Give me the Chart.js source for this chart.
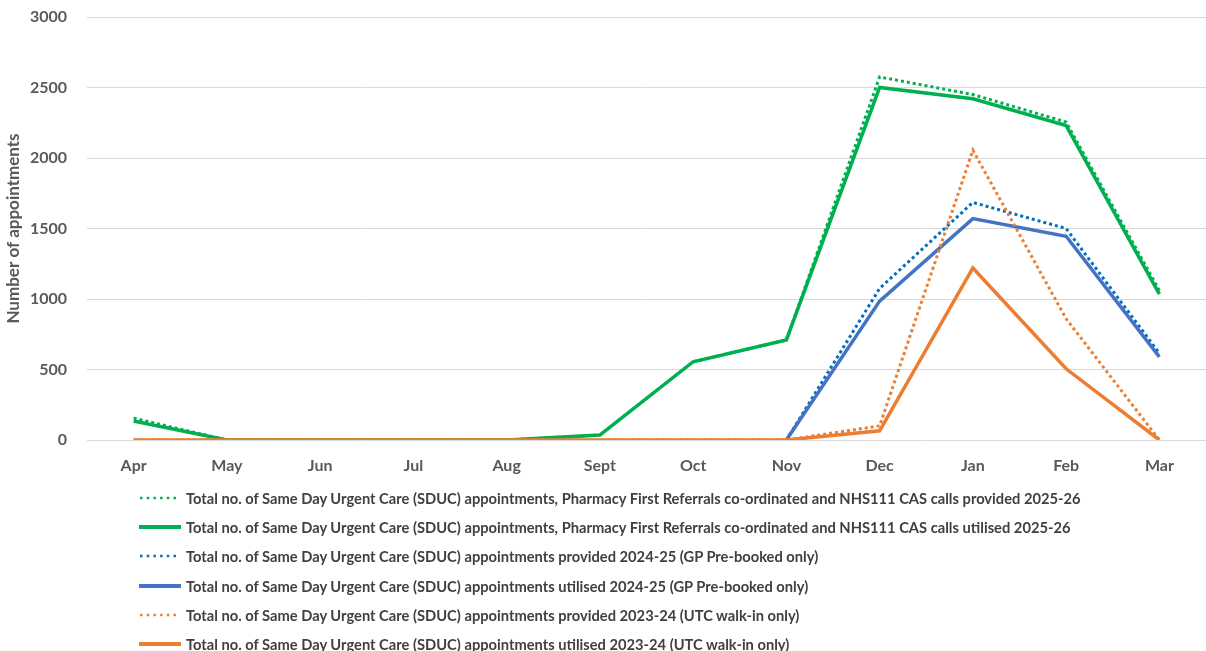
<!DOCTYPE html>
<html>
<head>
<meta charset="utf-8">
<script src="https://cdn.jsdelivr.net/npm/chart.js@4/dist/chart.umd.min.js"></script>
<style>
  html, body { margin: 0; padding: 0; background: #ffffff; }
  #wrap { position: relative; width: 1206px; height: 651px; }
  #legend { position: absolute; left: 139px; top: 483px; font-family: Lato, "Open Sans", sans-serif; font-weight: bold; font-size: 14.7px; color: #404040; }
  .row { display: flex; align-items: center; height: 29.3px; white-space: nowrap; }
  .row svg { flex: none; margin-right: 5px; }
</style>
</head>
<body>
<div id="wrap">
  <canvas id="c" width="1206" height="651"></canvas>
  <div id="legend"></div>
</div>
<script>
// Months of the financial year
const months = ['Apr', 'May', 'Jun', 'Jul', 'Aug', 'Sept', 'Oct', 'Nov', 'Dec', 'Jan', 'Feb', 'Mar'];

// 2025-26: SDUC appointments + Pharmacy First referrals + NHS111 CAS calls
const pfProvided = [155, 0, 0, 0, 0, 35, 555, 710, 2575, 2450, 2255, 1060];
const pfUtilised = [135, 0, 0, 0, 0, 35, 555, 710, 2500, 2420, 2230, 1035];

// 2024-25: GP pre-booked only (no data before Nov)
const gpProvided = [null, null, null, null, null, null, null, 0, 1075, 1685, 1500, 615];
const gpUtilised = [null, null, null, null, null, null, null, 0, 985, 1570, 1445, 590];

// 2023-24: UTC walk-in only
const utcProvided = [0, 0, 0, 0, 0, 0, 0, 0, 100, 2055, 860, 0];
const utcUtilised = [0, 0, 0, 0, 0, 0, 0, 0, 65, 1220, 505, 0];

// Axis ticks
const yTicks = [0, 500, 1000, 1500, 2000, 2500, 3000];

const seriesLabels = [
  'Total no. of Same Day Urgent Care (SDUC) appointments, Pharmacy First Referrals co-ordinated and NHS111 CAS calls provided 2025-26',
  'Total no. of Same Day Urgent Care (SDUC) appointments, Pharmacy First Referrals co-ordinated and NHS111 CAS calls utilised 2025-26',
  'Total no. of Same Day Urgent Care (SDUC) appointments provided 2024-25 (GP Pre-booked only)',
  'Total no. of Same Day Urgent Care (SDUC) appointments utilised 2024-25 (GP Pre-booked only)',
  'Total no. of Same Day Urgent Care (SDUC) appointments provided 2023-24 (UTC walk-in only)',
  'Total no. of Same Day Urgent Care (SDUC) appointments utilised 2023-24 (UTC walk-in only)'
];
const seriesData = [pfProvided, pfUtilised, gpProvided, gpUtilised, utcProvided, utcUtilised];
const seriesColors = ['#00B050', '#00B050', '#0070C0', '#4472C4', '#ED7D31', '#ED7D31'];
const seriesDotted = [true, false, true, false, true, false];

const datasets = seriesData.map((d, i) => ({
  label: seriesLabels[i],
  data: d,
  borderColor: seriesColors[i],
  backgroundColor: seriesColors[i],
  borderWidth: seriesDotted[i] ? 3 : 3.5,
  borderDash: seriesDotted[i] ? [3, 3] : [],
  pointRadius: 0,
  pointHoverRadius: 0,
  tension: 0,
  fill: false,
  spanGaps: false,
  order: seriesData.length - i   // later series drawn on top
}));

const tickFont = { family: 'Lato, "Open Sans", sans-serif', size: 16, weight: 'bold' };

const chart = new Chart(document.getElementById('c'), {
  type: 'line',
  data: { labels: months, datasets },
  options: {
    responsive: false,
    animation: false,
    events: [],
    layout: { padding: { top: 17, right: 0, bottom: 171, left: 0 } },
    plugins: { legend: { display: false }, tooltip: { enabled: false } },
    scales: {
      x: {
        offset: true,
        grid: { display: false },
        border: { display: false },
        ticks: { color: '#595959', font: tickFont, padding: 8, maxRotation: 0 },
        afterFit: s => { s.height = 40; }
      },
      y: {
        min: 0,
        max: 3000,
        afterBuildTicks: s => { s.ticks = yTicks.map(v => ({ value: v })); },
        grid: { color: '#D9D9D9', lineWidth: 1, drawTicks: false },
        border: { display: false },
        ticks: { color: '#595959', font: tickFont, padding: 20, callback: v => String(v) },
        title: {
          display: true,
          text: 'Number of appointments',
          color: '#595959',
          font: { family: 'Lato, "Open Sans", sans-serif', size: 17, weight: 'bold' },
          padding: { top: 3, bottom: 0 }
        },
        afterFit: s => { s.width = 87; s.paddingTop = 0; s.paddingBottom = 0; }
      }
    }
  }
});

// Legend rows, one series per row, built from the chart's datasets
const legend = document.getElementById('legend');
chart.data.datasets.forEach(ds => {
  const row = document.createElement('div');
  row.className = 'row';
  const dotted = ds.borderDash && ds.borderDash.length;
  const svg = `<svg width="42" height="8" viewBox="0 0 42 8">` +
    (dotted
      ? `<line x1="1" y1="4" x2="41" y2="4" stroke="${ds.borderColor}" stroke-width="2.5" stroke-dasharray="2.5 4.2"/>`
      : `<line x1="0" y1="4" x2="42" y2="4" stroke="${ds.borderColor}" stroke-width="4" stroke-linecap="round"/>`) +
    `</svg>`;
  row.innerHTML = svg;
  const span = document.createElement('span');
  span.textContent = ds.label;
  row.appendChild(span);
  legend.appendChild(row);
});
</script>
</body>
</html>
